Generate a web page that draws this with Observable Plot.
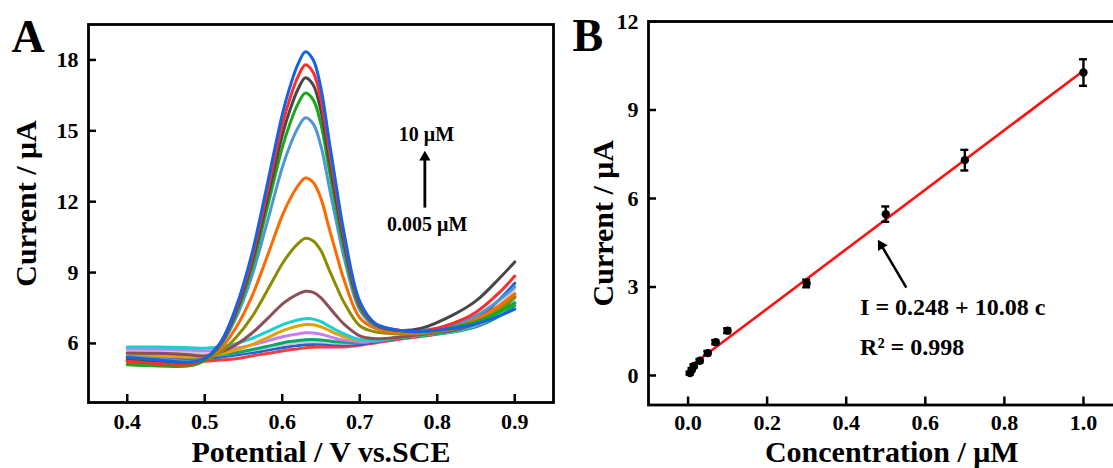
<!DOCTYPE html>
<html><head><meta charset="utf-8">
<script src="https://cdn.jsdelivr.net/npm/d3@7"></script>
<script src="https://cdn.jsdelivr.net/npm/@observablehq/plot@0.6"></script>
<style>
html,body{margin:0;padding:0;background:#fff;overflow:hidden;}
#wrap{position:relative;width:1113px;height:468px;overflow:hidden;background:#fff;}
#a{position:absolute;left:0;top:0;width:560px;height:468px;}
#b{position:absolute;left:560px;top:0;width:580px;height:468px;}
svg{max-width:none !important;}
</style></head><body><div id="wrap"><div id="a"></div><div id="b"></div></div>
<script>
// ---------- Panel A data (DPV curves) ----------
const potential = [0.40,0.44,0.48,0.50,0.52,0.54,0.56,0.58,0.60,0.61,0.62,0.63,0.64,0.65,0.66,0.67,0.68,0.70,0.72,0.75,0.78,0.82,0.85,0.88,0.90];
const curRedLow   = [5.28,5.25,5.22,5.25,5.30,5.35,5.47,5.57,5.68,5.73,5.77,5.82,5.84,5.85,5.85,5.85,5.85,5.92,6.02,6.18,6.30,6.50,6.80,7.40,8.00];
const curBlueLow  = [5.42,5.38,5.33,5.35,5.42,5.51,5.60,5.71,5.82,5.87,5.91,5.95,5.96,5.97,5.96,5.94,5.94,5.97,6.07,6.22,6.35,6.58,7.00,7.85,8.55];
const curGrey     = [5.70,5.68,5.62,5.55,5.52,5.60,5.70,5.82,5.94,5.99,6.03,6.06,6.07,6.06,6.04,6.02,6.01,6.04,6.10,6.25,6.37,6.55,6.85,7.60,8.30];
const curTeal     = [5.55,5.52,5.48,5.45,5.52,5.61,5.73,5.87,6.02,6.08,6.12,6.16,6.17,6.15,6.11,6.07,6.05,6.05,6.10,6.22,6.33,6.48,6.70,7.15,7.60];
const curViolet   = [5.78,5.76,5.72,5.68,5.71,5.80,5.93,6.10,6.28,6.35,6.40,6.45,6.44,6.39,6.30,6.20,6.14,6.08,6.12,6.25,6.37,6.52,6.75,7.30,8.00];
const curGold     = [5.50,5.47,5.42,5.45,5.55,5.72,5.94,6.23,6.53,6.65,6.74,6.80,6.79,6.70,6.56,6.41,6.28,6.14,6.14,6.25,6.37,6.55,6.85,7.50,8.10];
const curCyan     = [5.85,5.85,5.82,5.80,5.86,5.99,6.20,6.49,6.79,6.90,6.99,7.05,7.03,6.92,6.74,6.56,6.40,6.17,6.15,6.25,6.35,6.50,6.80,7.30,7.75];
const curBrown    = [5.60,5.58,5.52,5.47,5.62,5.94,6.41,7.02,7.66,7.90,8.09,8.21,8.16,7.93,7.55,7.16,6.81,6.32,6.20,6.26,6.38,6.55,6.85,7.40,7.95];
const curOlive    = [5.15,5.10,5.10,5.28,5.63,6.24,7.08,8.20,9.37,9.84,10.21,10.45,10.34,9.92,9.16,8.41,7.72,6.75,6.49,6.40,6.42,6.60,6.90,7.45,7.95];
const curOrange   = [5.30,5.22,5.18,5.32,5.76,6.65,7.93,9.63,11.41,12.11,12.66,13.00,12.81,12.13,10.94,9.77,8.66,7.09,6.64,6.45,6.45,6.70,7.03,7.61,8.10];
const curSteel    = [5.45,5.35,5.25,5.35,5.89,7.06,8.77,11.06,13.45,14.38,15.11,15.55,15.29,14.35,12.73,11.12,9.61,7.42,6.74,6.55,6.55,6.79,7.17,7.83,8.40];
const curGreen    = [5.10,5.05,5.05,5.28,5.94,7.23,9.11,11.65,14.29,15.31,16.12,16.60,16.31,15.27,13.46,11.67,10.00,7.55,6.78,6.55,6.50,6.68,6.92,7.34,7.70];
const curDark     = [5.30,5.20,5.15,5.36,5.97,7.33,9.33,12.01,14.81,15.89,16.74,17.25,16.94,15.83,13.92,12.02,10.24,7.64,6.81,6.55,6.65,7.20,7.80,8.75,9.45];
const curRedHigh  = [5.25,5.15,5.10,5.36,6.00,7.42,9.51,12.32,15.25,16.38,17.27,17.80,17.47,16.31,14.30,12.31,10.44,7.71,6.83,6.56,6.52,6.85,7.32,8.15,8.85];
const curBlueHigh = [5.40,5.30,5.20,5.36,6.03,7.51,9.69,12.63,15.69,16.87,17.80,18.35,18.00,16.79,14.69,12.60,10.64,7.78,6.85,6.56,6.50,6.64,6.83,7.17,7.45];
const curvesA = [curRedLow,curBlueLow,curGrey,curTeal,curViolet,curGold,curCyan,curBrown,curOlive,curOrange,curSteel,curGreen,curDark,curRedHigh,curBlueHigh];
const colorsA = ["#ff3b3b","#2162d9","#c9c9cf","#0aa56a","#c87df2","#e2a100","#19cfcf","#8c4f57","#8b8c00","#ff6a00","#4c97d4","#19a819","#474747","#ff2d2d","#1463e6"];
const xTicksA = [0.4,0.5,0.6,0.7,0.8,0.9];
const yTicksA = [6,9,12,15,18];

// ---------- Panel B data (calibration) ----------
const concB    = [0.005,0.01,0.015,0.03,0.05,0.07,0.1,0.3,0.5,0.7,1.0];
const currentB = [0.08,0.20,0.32,0.50,0.76,1.13,1.52,3.12,5.47,7.30,10.27];
const errB     = [0.05,0.05,0.06,0.06,0.07,0.07,0.08,0.13,0.26,0.35,0.45];
const fitC = [0.012,1.0];
const fitI = [0.37,10.33];
const xTicksB = [0,0.2,0.4,0.6,0.8,1.0];
const yTicksB = [0,3,6,9,12];

const FONT = '"Liberation Serif","Times New Roman",serif';
const baseStyle = {fontFamily: FONT, fontSize: "22px", fontWeight: "bold", color: "#000", background: "white", overflow: "visible", maxWidth: "none"};
const TITLE = 30;

// ---- Panel A ----
const WA = 560, HA = 468, mlA = 88, mrA = 7, mtA = 24, mbA = 66;
const fwA = WA - mlA - mrA, fhA = HA - mtA - mbA;
const lineMarks = curvesA.map((vals, k) =>
  Plot.line(potential.map((x, i) => ({x, y: vals[i]})), {x: "x", y: "y", stroke: colorsA[k], strokeWidth: 3, curve: "catmull-rom"}));
const plotA = Plot.plot({
  width: WA, height: HA, marginLeft: mlA, marginRight: mrA, marginTop: mtA, marginBottom: mbA,
  style: baseStyle,
  x: {domain: [0.35, 0.95], ticks: xTicksA, tickFormat: ".1f", tickSize: 0, tickPadding: 11, label: null},
  y: {domain: [3.5, 19.5], ticks: yTicksA, tickFormat: "d", tickSize: 0, tickPadding: 10, label: null},
  marks: [
    ...lineMarks,
    Plot.ruleX(xTicksA, {x: d => d, insetTop: fhA - 8, stroke: "#000", strokeWidth: 2.5}),
    Plot.ruleY(yTicksA, {y: d => d, insetRight: fwA - 8, stroke: "#000", strokeWidth: 2.5}),
    Plot.frame({stroke: "#000", strokeWidth: 2.8}),
    Plot.text(["10 μM"], {x: 0.786, y: 14.85, text: d => d, fontSize: 20, fontWeight: "bold", fill: "#000"}),
    Plot.text(["0.005 μM"], {x: 0.787, y: 11.04, text: d => d, fontSize: 20, fontWeight: "bold", fill: "#000"}),
    Plot.link([0], {x1: 0.784, y1: 11.75, x2: 0.784, y2: 13.9, stroke: "#000", strokeWidth: 2.8}),
    Plot.dot([0], {x: 0.784, y: 13.88, symbol: "triangle", r: 4.2, fill: "#000", stroke: "none"}),
    Plot.text(["Potential / V vs.SCE"], {frameAnchor: "bottom", dy: 59, lineAnchor: "bottom", text: d => d, fontSize: TITLE, fontWeight: "bold", fill: "#000"}),
    Plot.text(["Current / μA"], {frameAnchor: "left", textAnchor: "middle", dx: -53, dy: -10, rotate: -90, lineAnchor: "bottom", text: d => d, fontSize: TITLE, fontWeight: "bold", fill: "#000"}),
    Plot.text(["A"], {frameAnchor: "top-left", dx: -77, dy: 27.5, textAnchor: "start", lineAnchor: "bottom", text: d => d, fontSize: 46, fontWeight: "bold", fill: "#000"})
  ]
});
document.getElementById("a").appendChild(plotA);

// ---- Panel B ----
const WB = 580, HB = 468, mlB = 88, mrB = 17.5, mtB = 21, mbB = 63.5;
const fwB = WB - mlB - mrB, fhB = HB - mtB - mbB;
const rowsB = concB.map((c, i) => ({c, i: currentB[i], lo: currentB[i] - errB[i], hi: currentB[i] + errB[i]}));
const fitRows = fitC.map((c, i) => ({c, i: fitI[i]}));
const plotB = Plot.plot({
  width: WB, height: HB, marginLeft: mlB, marginRight: mrB, marginTop: mtB, marginBottom: mbB,
  style: baseStyle,
  x: {domain: [-0.1, 1.1], ticks: xTicksB, tickFormat: ".1f", tickSize: 0, tickPadding: 9, label: null},
  y: {domain: [-1, 12], ticks: yTicksB, tickFormat: "d", tickSize: 0, tickPadding: 10, label: null},
  marks: [
    Plot.ruleX(xTicksB, {x: d => d, insetTop: fhB - 8, stroke: "#000", strokeWidth: 2.5}),
    Plot.ruleY(yTicksB, {y: d => d, insetRight: fwB - 8, stroke: "#000", strokeWidth: 2.5}),
    Plot.frame({stroke: "#000", strokeWidth: 2.8}),
    Plot.line(fitRows, {x: "c", y: "i", stroke: "#ff1010", strokeWidth: 2.6}),
    Plot.ruleX(rowsB, {x: "c", y1: "lo", y2: "hi", stroke: "#000", strokeWidth: 2.4}),
    Plot.ruleY(rowsB, {y: "hi", x1: "c", x2: "c", insetLeft: -4, insetRight: -4, stroke: "#000", strokeWidth: 2.4}),
    Plot.ruleY(rowsB, {y: "lo", x1: "c", x2: "c", insetLeft: -4, insetRight: -4, stroke: "#000", strokeWidth: 2.4}),
    Plot.dot(rowsB, {x: "c", y: "i", r: 4.2, fill: "#000", stroke: "none"}),
    Plot.link([0], {x1: 0.552, y1: 2.98, x2: 0.489, y2: 4.41, stroke: "#000", strokeWidth: 2.5}),
    Plot.dot([0], {x: 0.4885, y: 4.41, symbol: "triangle", r: 4.2, rotate: -30.7, fill: "#000", stroke: "none"}),
    Plot.text(["I = 0.248 + 10.08 c"], {x: 0.435, y: 2.32, textAnchor: "start", text: d => d, fontSize: 24, fontWeight: "bold", fill: "#000"}),
    Plot.text(["R² = 0.998"], {x: 0.435, y: 0.96, textAnchor: "start", text: d => d, fontSize: 24, fontWeight: "bold", fill: "#000"}),
    Plot.text(["Concentration / μM"], {frameAnchor: "bottom", dx: 6, dy: 56.5, lineAnchor: "bottom", text: d => d, fontSize: TITLE, fontWeight: "bold", fill: "#000"}),
    Plot.text(["Current / μA"], {frameAnchor: "left", textAnchor: "middle", dx: -36, dy: 10, rotate: -90, lineAnchor: "bottom", text: d => d, fontSize: TITLE, fontWeight: "bold", fill: "#000"}),
    Plot.text(["B"], {frameAnchor: "top-left", dx: -76, dy: 29, textAnchor: "start", lineAnchor: "bottom", text: d => d, fontSize: 46, fontWeight: "bold", fill: "#000"})
  ]
});
document.getElementById("b").appendChild(plotB);
</script>
</body></html>
